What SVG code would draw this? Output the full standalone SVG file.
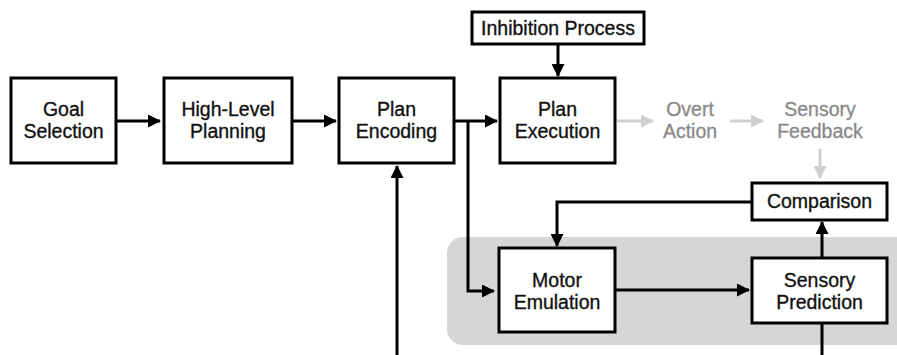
<svg xmlns="http://www.w3.org/2000/svg" width="897" height="355" viewBox="0 0 897 355">
<style>
.box{fill:#fff;stroke:#000;stroke-width:3}
.t{font-family:"Liberation Sans",Arial,sans-serif;font-size:19.5px;fill:#111;text-anchor:middle;stroke:#111;stroke-width:0.35}
.g{fill:#8a8a8a;stroke:#8a8a8a}
.c{fill:none;stroke:#000;stroke-width:3}
.cg{fill:none;stroke:#cfcfcf;stroke-width:3}
</style>
<defs>
<marker id="ah" markerWidth="13" markerHeight="13" viewBox="0 0 13 13" refX="12" refY="6.5" orient="auto" markerUnits="userSpaceOnUse">
<path d="M0,0 L13,6.5 L0,13 Z" fill="#000"/>
</marker>
<marker id="ag" markerWidth="13" markerHeight="13" viewBox="0 0 13 13" refX="12" refY="6.5" orient="auto" markerUnits="userSpaceOnUse">
<path d="M0,0 L13,6.5 L0,13 Z" fill="#cfcfcf"/>
</marker>
</defs>
<rect id="emulator-region" x="447" y="237" width="470" height="108" rx="16" fill="#d6d6d6"/>
<g id="connectors">
<path class="c" d="M116,121 H160" marker-end="url(#ah)"/>
<path class="c" d="M292,121 H336" marker-end="url(#ah)"/>
<path class="c" d="M454,121 H497" marker-end="url(#ah)"/>
<path class="c" d="M468,121 V291 H494" marker-end="url(#ah)"/>
<path class="c" d="M558,44 V76" marker-end="url(#ah)"/>
<path class="c" d="M397,355 V166" marker-end="url(#ah)"/>
<path class="c" d="M752,202 H557 V246" marker-end="url(#ah)"/>
<path class="c" d="M615,290 H749" marker-end="url(#ah)"/>
<path class="c" d="M822,258 V222" marker-end="url(#ah)"/>
<path class="c" d="M822,323 V355"/>
<path class="cg" d="M617,121 H653" marker-end="url(#ag)"/>
<path class="cg" d="M730,121 H763" marker-end="url(#ag)"/>
<path class="cg" d="M820,149 V178" marker-end="url(#ag)"/>
</g>
<g id="goal-selection">
<rect class="box" x="11" y="78" width="105" height="85"/>
<text class="t" x="63.5" y="116">Goal</text>
<text class="t" x="63.5" y="138">Selection</text>
</g>
<g id="high-level-planning">
<rect class="box" x="164" y="78" width="128" height="85"/>
<text class="t" x="228" y="116">High-Level</text>
<text class="t" x="228" y="138">Planning</text>
</g>
<g id="plan-encoding">
<rect class="box" x="339" y="78" width="115" height="85"/>
<text class="t" x="396.5" y="116">Plan</text>
<text class="t" x="396.5" y="138">Encoding</text>
</g>
<g id="inhibition-process">
<rect class="box" x="472" y="12" width="172" height="32"/>
<text class="t" x="558" y="35">Inhibition Process</text>
</g>
<g id="plan-execution">
<rect class="box" x="500" y="78" width="115" height="85"/>
<text class="t" x="557.5" y="116">Plan</text>
<text class="t" x="557.5" y="138">Execution</text>
</g>
<g id="overt-action">
<text class="t g" x="690" y="116">Overt</text>
<text class="t g" x="690" y="138">Action</text>
</g>
<g id="sensory-feedback">
<text class="t g" x="820" y="116">Sensory</text>
<text class="t g" x="820" y="138">Feedback</text>
</g>
<g id="comparison">
<rect class="box" x="752" y="183" width="135" height="37"/>
<text class="t" x="819.5" y="208">Comparison</text>
</g>
<g id="motor-emulation">
<rect class="box" x="499" y="248" width="116" height="84"/>
<text class="t" x="557" y="287">Motor</text>
<text class="t" x="557" y="309">Emulation</text>
</g>
<g id="sensory-prediction">
<rect class="box" x="752" y="258" width="135" height="65"/>
<text class="t" x="819.5" y="287">Sensory</text>
<text class="t" x="819.5" y="309">Prediction</text>
</g>
</svg>
